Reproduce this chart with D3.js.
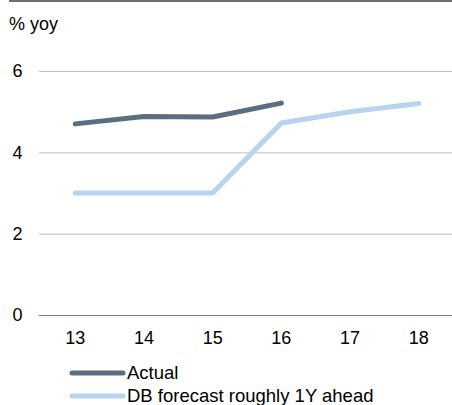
<!DOCTYPE html>
<html>
<head>
<meta charset="utf-8">
<script src="https://cdn.jsdelivr.net/npm/d3@7"></script>
<style>
  body { margin: 0; background: #fff; }
  text { font-family: "Liberation Sans", Arial, sans-serif; fill: #000; }
</style>
</head>
<body>
<div id="chart"></div>
<script>
var years = ["13", "14", "15", "16", "17", "18"];
var actual = [4.70, 4.88, 4.87, 5.21];
var forecast = [3.0, 3.0, 3.0, 4.72, 5.0, 5.2];
var yTicks = [0, 2, 4, 6];

var W = 452, H = 405;

var svg = d3.select("#chart").append("svg")
    .attr("width", W)
    .attr("height", H);

// top rule
svg.append("rect")
    .attr("x", 9).attr("y", 0)
    .attr("width", W - 9).attr("height", 2)
    .attr("fill", "#6e6e6e");

var x = d3.scaleBand()
    .domain(years)
    .range([41, 453]);

var y = d3.scaleLinear()
    .domain([0, 6])
    .range([315, 71]);

// gridlines
svg.selectAll(".grid")
    .data(yTicks.filter(function (d) { return d > 0; }))
    .enter().append("line")
    .attr("x1", 39).attr("x2", W)
    .attr("y1", function (d) { return y(d) + 0.5; })
    .attr("y2", function (d) { return y(d) + 0.5; })
    .attr("stroke", "#c0c0c0")
    .attr("stroke-width", 1);

// zero line
svg.append("line")
    .attr("x1", 39).attr("x2", W)
    .attr("y1", y(0) + 0.5).attr("y2", y(0) + 0.5)
    .attr("stroke", "#808080")
    .attr("stroke-width", 1);

// y labels
svg.selectAll(".ylab")
    .data(yTicks)
    .enter().append("text")
    .attr("x", 17.5)
    .attr("y", function (d) { return y(d); })
    .attr("dy", "0.35em")
    .attr("text-anchor", "middle")
    .style("font-size", "18px")
    .text(function (d) { return d; });

// x labels
svg.selectAll(".xlab")
    .data(years)
    .enter().append("text")
    .attr("x", function (d) { return x(d) + x.bandwidth() / 2; })
    .attr("y", 338)
    .attr("dy", "0.35em")
    .attr("text-anchor", "middle")
    .style("font-size", "18px")
    .text(function (d) { return d; });

svg.append("text")
    .attr("x", 9).attr("y", 30)
    .style("font-size", "18px")
    .text("% yoy");

var line = d3.line()
    .x(function (d, i) { return x(years[i]) + x.bandwidth() / 2; })
    .y(function (d) { return y(d); });

svg.append("path")
    .datum(forecast)
    .attr("d", line)
    .attr("fill", "none")
    .attr("stroke", "#b7d3ef")
    .attr("stroke-width", 5)
    .attr("stroke-linecap", "round")
    .attr("stroke-linejoin", "round");

svg.append("path")
    .datum(actual)
    .attr("d", line)
    .attr("fill", "none")
    .attr("stroke", "#5a6e81")
    .attr("stroke-width", 5)
    .attr("stroke-linecap", "round")
    .attr("stroke-linejoin", "round");

// legend
var legend = [
    { name: "Actual", color: "#5a6e81" },
    { name: "DB forecast roughly 1Y ahead", color: "#b7d3ef" }
];
var lg = svg.selectAll(".leg")
    .data(legend)
    .enter().append("g")
    .attr("transform", function (d, i) { return "translate(0," + (373 + i * 23) + ")"; });
lg.append("line")
    .attr("x1", 72).attr("x2", 123)
    .attr("stroke", function (d) { return d.color; })
    .attr("stroke-width", 5)
    .attr("stroke-linecap", "round");
lg.append("text")
    .attr("x", 127)
    .attr("dy", "0.35em")
    .style("font-size", "18.5px")
    .text(function (d) { return d.name; });
</script>
</body>
</html>
